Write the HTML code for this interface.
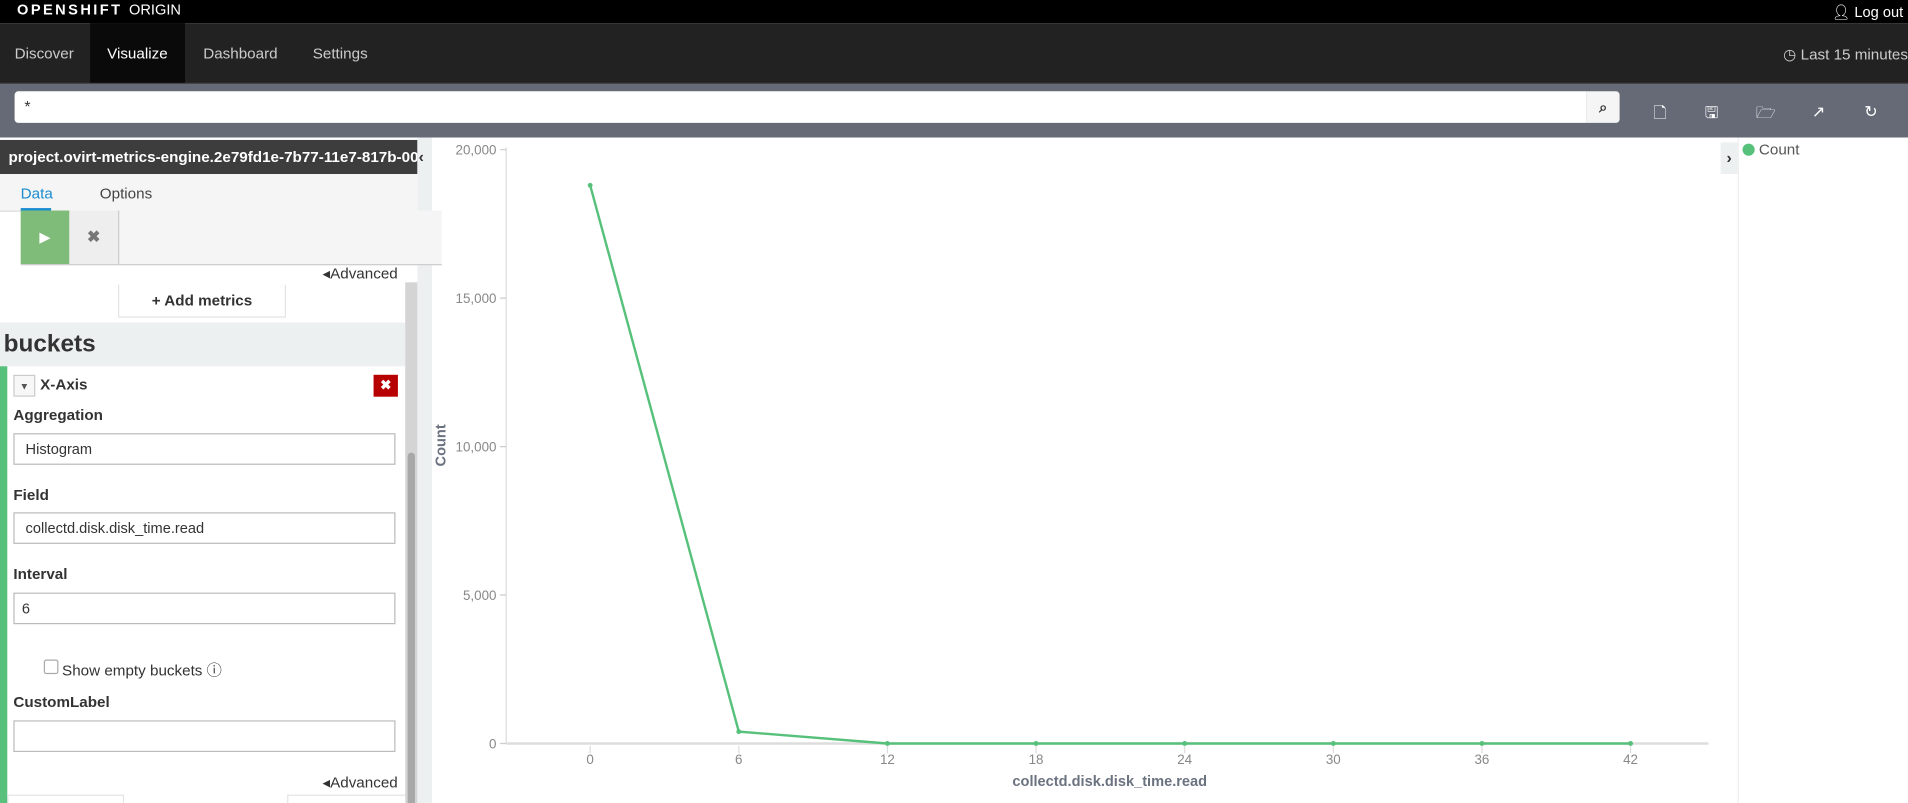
<!DOCTYPE html>
<html><head><meta charset="utf-8">
<style>
html,body{margin:0;padding:0;width:1908px;height:803px;overflow:hidden;background:#fff;font-family:"Liberation Sans",sans-serif;}
#wrap{position:absolute;left:0;top:0;width:1568px;height:660px;transform:scale(1.216837);transform-origin:0 0;overflow:hidden;background:#fff;}
.abs{position:absolute;}
.lbl{font-size:12.5px;color:#333;font-weight:bold;}
.inp{position:absolute;left:11px;width:314px;height:24px;border:1px solid #bbb;background:#fff;font-size:12px;color:#333;box-sizing:border-box;padding:5px 9px;}
.ic{position:absolute;top:84px;color:#fff;font-size:13px;}
</style></head><body>
<div id="wrap">
<div class="abs" style="left:0;top:0;width:1568px;height:19px;background:#000;">
  <span class="abs" style="left:14px;top:1px;color:#fff;font-size:12px;letter-spacing:2px;font-weight:bold;">OPENSHIFT <span style="font-weight:normal;letter-spacing:0">ORIGIN</span></span>
  <span class="abs" style="right:4px;top:3px;color:#fff;font-size:12px;">&#x1F464;&#xFE0E; Log out</span>
</div>
<div class="abs" style="left:0;top:19px;width:1568px;height:50px;background:#222;border-bottom:1px solid #444;box-sizing:border-box;">
  <span class="abs" style="left:12px;top:18px;color:#ccc;font-size:12.5px;">Discover</span>
  <div class="abs" style="left:74px;top:0;width:78px;height:49px;background:#0a0a0a;"><span class="abs" style="left:14px;top:18px;color:#fff;font-size:12.5px;">Visualize</span></div>
  <span class="abs" style="left:167px;top:18px;color:#ccc;font-size:12.5px;">Dashboard</span>
  <span class="abs" style="left:257px;top:18px;color:#ccc;font-size:12.5px;">Settings</span>
  <span class="abs" style="right:0;top:18px;color:#ccc;font-size:12.5px;">&#9719; Last 15 minutes</span>
</div>
<div class="abs" style="left:0;top:69px;width:1568px;height:44px;background:#656a76;">
  <div class="abs" style="left:12px;top:6px;width:1292px;height:26px;background:#fff;border-radius:3px 0 0 3px;font-size:13px;color:#333;box-sizing:border-box;padding:5px 8px;">*</div>
  <div class="abs" style="left:1304px;top:6px;width:27px;height:26px;background:#f5f5f5;border-radius:0 3px 3px 0;text-align:center;line-height:26px;font-size:12px;color:#333;font-weight:bold;">&#x2315;</div>
</div>
<span class="ic" style="left:1359px;">&#x1F5CB;&#xFE0E;</span>
<span class="ic" style="left:1401px;">&#x1F5AB;&#xFE0E;</span>
<span class="ic" style="left:1443px;">&#x1F5C1;&#xFE0E;</span>
<span class="ic" style="left:1489px;">&#x2197;</span>
<span class="ic" style="left:1532px;">&#x21BB;</span>

<!-- left panel -->
<div class="abs" style="left:0;top:113px;width:343px;height:547px;background:#fff;">
  <div class="abs" style="left:0;top:2px;width:343px;height:28px;background:#3d3d3d;color:#fff;font-size:12.5px;font-weight:bold;line-height:28px;padding-left:7px;box-sizing:border-box;white-space:nowrap;overflow:hidden;">project.ovirt-metrics-engine.2e79fd1e-7b77-11e7-817b-001a</div>
  <div class="abs" style="left:0;top:30px;width:343px;height:30px;background:#f5f5f5;border-bottom:1px solid #ddd;">
    <span class="abs" style="left:17px;top:9px;font-size:12.5px;color:#1a8ccf;">Data</span>
    <div class="abs" style="left:17px;top:28px;width:25px;height:3px;background:#1a8ccf;"></div>
    <span class="abs" style="left:82px;top:9px;font-size:12.5px;color:#444;">Options</span>
  </div>
  <div class="abs" style="left:17px;top:60px;width:346px;height:44px;background:#f5f5f5;border-bottom:1px solid #ccc;z-index:2;">
    <div class="abs" style="left:0;top:0;width:40px;height:44px;background:#7fbc7a;color:#fff;text-align:center;line-height:44px;font-size:12px;">&#9654;</div>
    <div class="abs" style="left:40px;top:0;width:40px;height:44px;background:#eee;border-right:1px solid #ccc;color:#777;text-align:center;line-height:44px;font-size:13px;font-weight:bold;">&#x2716;</div>
  </div>
  <span class="abs" style="left:265px;top:104px;font-size:12.5px;color:#333;">&#9666;Advanced</span>
  <div class="abs" style="left:97px;top:121px;width:136px;height:26px;border:1px solid #e4e4e4;border-top:none;text-align:center;line-height:26px;font-size:12.5px;font-weight:bold;color:#333;">+ Add metrics</div>
  <div class="abs" style="left:0;top:152px;width:333px;height:36px;background:#ecf0f1;font-size:20px;font-weight:bold;color:#333;line-height:36px;padding-left:3px;box-sizing:border-box;">buckets</div>
  <div class="abs" style="left:0;top:188px;width:6px;height:359px;background:#57c17b;"></div>
  <div class="abs" style="left:11px;top:195px;width:18px;height:18px;border:1px solid #ccc;background:#f7f7f7;font-size:8px;text-align:center;line-height:18px;color:#555;box-sizing:border-box;">&#9660;</div>
  <span class="abs lbl" style="left:33px;top:196px;">X-Axis</span>
  <div class="abs" style="left:307px;top:195px;width:20px;height:18px;background:#b70000;color:#fff;text-align:center;line-height:18px;font-size:11px;font-weight:bold;">&#x2716;</div>
  <span class="abs lbl" style="left:11px;top:221px;">Aggregation</span>
  <div class="inp" style="top:243px;height:26px;">Histogram</div>
  <span class="abs lbl" style="left:11px;top:287px;">Field</span>
  <div class="inp" style="top:308px;height:26px;">collectd.disk.disk_time.read</div>
  <span class="abs lbl" style="left:11px;top:352px;">Interval</span>
  <div class="inp" style="top:374px;height:26px;padding-left:6px;">6</div>
  <div class="abs" style="left:36px;top:429px;width:10px;height:10px;border:1px solid #aaa;border-radius:2px;"></div>
  <span class="abs" style="left:51px;top:427px;font-size:12.5px;color:#333;">Show empty buckets &#x24D8;</span>
  <span class="abs lbl" style="left:11px;top:457px;">CustomLabel</span>
  <div class="inp" style="top:479px;height:26px;"></div>
  <span class="abs" style="left:265px;top:522px;font-size:12.5px;color:#333;">&#9666;Advanced</span>
  <div class="abs" style="left:6px;top:540px;width:94px;height:10px;border:1px solid #e4e4e4;border-bottom:none;"></div>
  <div class="abs" style="left:236px;top:540px;width:97px;height:10px;border:1px solid #e4e4e4;border-bottom:none;"></div>
  <div class="abs" style="left:333px;top:119px;width:10px;height:428px;background:#d4d4d4;"><div style="margin:140px 0 0 2px;width:6px;height:300px;background:#a8a8a8;border-radius:3px;"></div></div>
</div>
<div class="abs" style="left:343px;top:113px;width:12px;height:547px;background:#ecf0f1;font-size:13px;font-weight:bold;color:#333;"><span style="position:absolute;left:1px;top:8px;">&#8249;</span></div>

<!-- chart -->
<svg class="abs" style="left:355px;top:113px;" width="1073" height="547" id="chart"></svg>
<div class="abs" style="left:1414px;top:117px;width:14px;height:26px;background:#ecf0f1;font-size:13px;font-weight:bold;color:#333;text-align:center;line-height:26px;">&#8250;</div>
<div class="abs" style="left:1428px;top:113px;width:1px;height:547px;background:#eee;"></div>
<div class="abs" style="left:1432px;top:116px;font-size:12.5px;color:#555;"><span style="display:inline-block;width:10px;height:10px;border-radius:50%;background:#57c17b;vertical-align:-1px;"></span> Count</div>

<script>
const categories=[0,6,12,18,24,30,36,42];
const counts=[18800,400,0,0,0,0,0,0];
const yTicks=[0,5000,10000,15000,20000];
const yTickLabels=["0","5,000","10,000","15,000","20,000"];
const xTickLabels=["0","6","12","18","24","30","36","42"];
const NS="http://www.w3.org/2000/svg";
const svg=document.getElementById('chart');
// svg offset 355,113
const x0=485-355, xPer=(1340-485)/42;
const y0=611-113, yTop=123-113;
function xs(v){return x0+v*xPer;}
function ys(v){return y0-(v/20000)*(y0-yTop);}
function mk(t,a){const e=document.createElementNS(NS,t);for(const k in a)e.setAttribute(k,a[k]);svg.appendChild(e);return e;}
let ax=mk('line',{x1:61,y1:8,x2:61,y2:y0,stroke:'#ddd','stroke-width':1});


let bx=mk('line',{x1:61,y1:y0,x2:1049,y2:y0,stroke:'#ddd','stroke-width':2});


yTicks.forEach((v,i)=>{
  const tk=mk('line',{x1:56,y1:ys(v),x2:61,y2:ys(v),stroke:'#ccc'});
  
  
  const t=mk('text',{x:53,y:ys(v)+4,'text-anchor':'end','font-size':'11','fill':'#888','font-family':'Liberation Sans, sans-serif'});
  t.textContent=yTickLabels[i];
  
  
});
categories.forEach((c,i)=>{
  const tk=mk('line',{x1:xs(c),y1:y0+2,x2:xs(c),y2:y0+8,stroke:'#ddd'});
  
  
  const t=mk('text',{x:xs(c),y:y0+17,'text-anchor':'middle','font-size':'11','fill':'#888','font-family':'Liberation Sans, sans-serif'});
  t.textContent=xTickLabels[i];
  
  
});
const pts=categories.map((c,i)=>xs(c)+','+ys(counts[i])).join(' ');
const line=mk('polyline',{points:pts,fill:'none',stroke:'#57c17b','stroke-width':2});


categories.forEach((c,i)=>{
  const p=mk('circle',{cx:xs(c),cy:ys(counts[i]),r:2,fill:'#57c17b'});
  
  
});
const yl=mk('text',{x:0,y:0,transform:'translate(11,'+(366-113)+') rotate(-90)','text-anchor':'middle','font-size':'12','font-weight':'bold','fill':'#6b7280','font-family':'Liberation Sans, sans-serif'});
yl.textContent='Count';


const xl=mk('text',{x:912-355,y:642-113+4,'text-anchor':'middle','font-size':'12','font-weight':'bold','fill':'#6b7280','font-family':'Liberation Sans, sans-serif'});
xl.textContent='collectd.disk.disk_time.read';


</script>
</div>
</body></html>
